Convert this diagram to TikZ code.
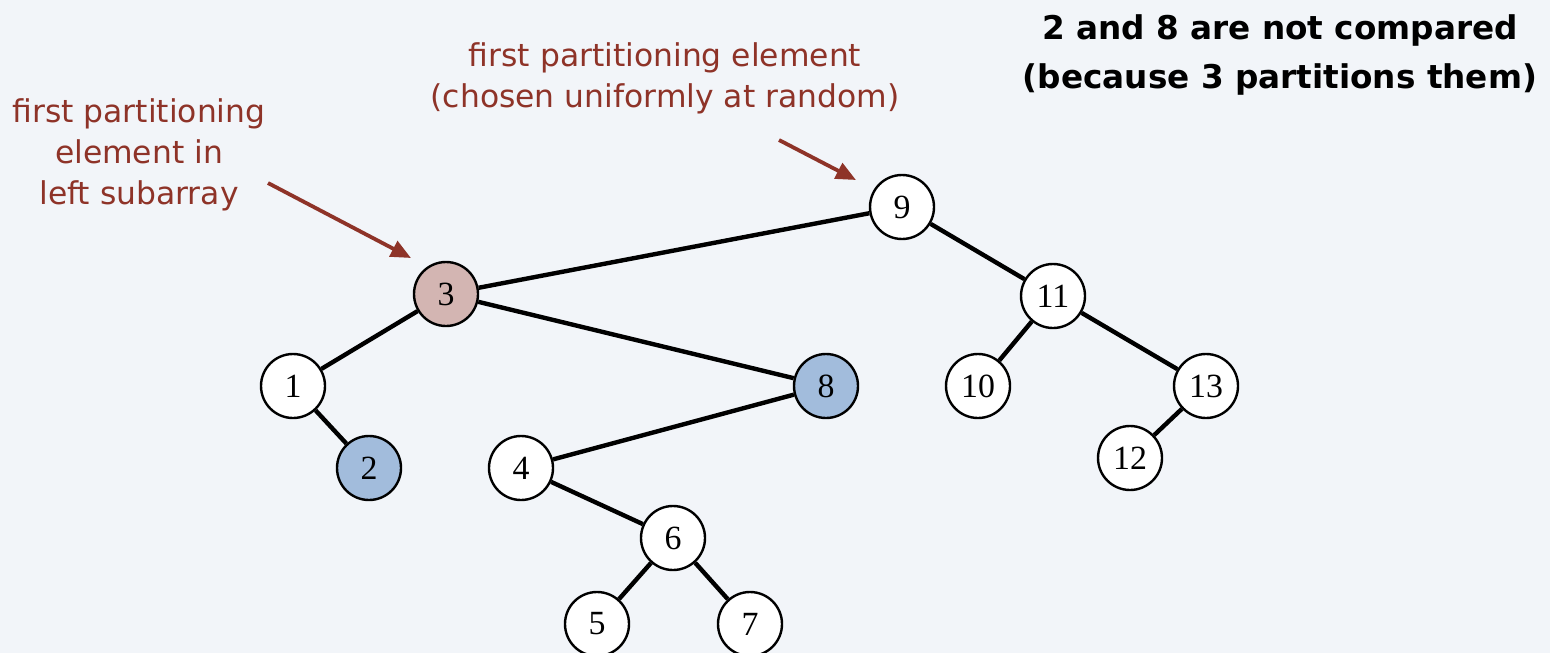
\documentclass[tikz,border=0pt]{standalone}
\usepackage{fontspec}
\setmainfont{Liberation Serif}
\newfontfamily\labelfont{DejaVu Sans}
\usetikzlibrary{arrows.meta}
\definecolor{bgc}{HTML}{F2F5F9}
\definecolor{redc}{HTML}{8E3328}
\definecolor{pivc}{HTML}{D3B5B2}
\definecolor{bluec}{HTML}{A2BCDC}
\tikzset{
  key/.style={circle,draw=black,line width=2.4bp,fill=white,minimum size=64bp,inner sep=0pt,
    font=\fontsize{34}{34}\selectfont},
  edge/.style={line width=4.4bp,black},
  pointer/.style={line width=3.8bp,redc,-{Triangle[length=20bp,width=17bp]}},
  note/.style={text=redc,align=center,font=\labelfont\fontsize{31.5}{41}\selectfont},
  boldnote/.style={text=black,align=center,font=\labelfont\bfseries\fontsize{32.8}{50}\selectfont}
}
\begin{document}
\begin{tikzpicture}[x=1bp,y=-1bp]
\useasboundingbox[fill=bgc] (0,0) rectangle (1550,653);
\node[key] (n9) at (902,207) {9};
\node[key,fill=pivc] (n3) at (446,294) {3};
\node[key] (n11) at (1053,296) {11};
\node[key] (n1) at (293,386) {1};
\node[key,fill=bluec] (n8) at (826,386) {8};
\node[key] (n10) at (978,386) {10};
\node[key] (n13) at (1206,386) {13};
\node[key,fill=bluec] (n2) at (369,468) {2};
\node[key] (n4) at (521,468) {4};
\node[key] (n12) at (1130,458) {12};
\node[key] (n6) at (673,538) {6};
\node[key] (n5) at (597,624) {5};
\node[key] (n7) at (750,624) {7};
\draw[edge] (n9) -- (n3);
\draw[edge] (n9) -- (n11);
\draw[edge] (n3) -- (n1);
\draw[edge] (n3) -- (n8);
\draw[edge] (n1) -- (n2);
\draw[edge] (n8) -- (n4);
\draw[edge] (n4) -- (n6);
\draw[edge] (n6) -- (n5);
\draw[edge] (n6) -- (n7);
\draw[edge] (n11) -- (n10);
\draw[edge] (n11) -- (n13);
\draw[edge] (n13) -- (n12);
\node[note] (lab1) at (139,155) {first partitioning\\element in\\left subarray};
\node[note] (lab2) at (665,78) {first partitioning element\\(chosen uniformly at random)};
\node[boldnote] (lab3) at (1280,55) {2 and 8 are not compared\\(because 3 partitions them)};
\coordinate (a1s) at (268,183);
\coordinate (a1e) at (411,258);
\coordinate (a2s) at (779,140);
\coordinate (a2e) at (856,180);
\draw[pointer] (a1s) -- (a1e);
\draw[pointer] (a2s) -- (a2e);
\end{tikzpicture}
\end{document}
